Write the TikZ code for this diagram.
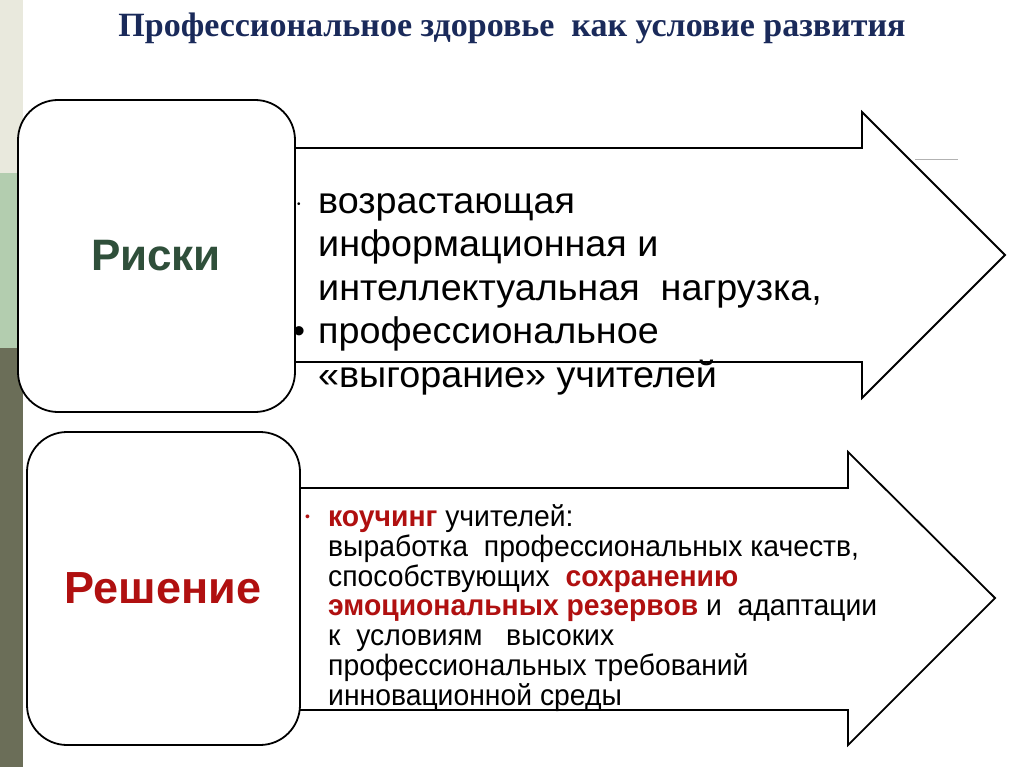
\documentclass[tikz,border=0pt]{standalone}
\usepackage{fontspec}
\setmainfont{Liberation Serif}
\setsansfont{Liberation Sans}
\usetikzlibrary{positioning}
\definecolor{titleblue}{HTML}{1A2A5A}
\definecolor{riskgreen}{HTML}{2F4F3A}
\definecolor{solred}{HTML}{B01010}
\definecolor{stripeA}{HTML}{E9E9DD}
\definecolor{stripeB}{HTML}{B3CDAF}
\definecolor{stripeC}{HTML}{6B6E58}
\tikzset{
	card/.style={draw, line width=1.8pt, rounded corners=40pt, fill=white},
	arrowbox/.style={draw, line width=1.8pt, fill=white},
	body/.style={font=\sffamily, anchor=west, align=left, inner sep=0pt}
}
\begin{document}
\begin{tikzpicture}[x=1pt, y=-1pt]
		\useasboundingbox (0,0) rectangle (1024,767);
		\fill[white] (0,0) rectangle (1024,767);
		% side stripes
		\fill[stripeA] (0,0) rectangle (23,173);
		\fill[stripeB] (0,173) rectangle (23,348);
		\fill[stripeC] (0,348) rectangle (23,767);
		\draw[gray!60, line width=1pt] (915,160) -- (958,160);
		\node (title) at (512,28) {\bfseries\fontsize{34}{38}\selectfont\color{titleblue}Профессиональное здоровье\ \ как условие развития};
		%% arrows
		\draw[arrowbox] (280,148) -- (862,148) -- (862,112) -- (1005,255) -- (862,398) -- (862,362) -- (280,362) -- cycle;
		\draw[arrowbox] (285,488) -- (848,488) -- (848,452) -- (995,598) -- (848,745) -- (848,710) -- (285,710) -- cycle;
		%% cards
		\draw[card] (18,100) rectangle (295,412);
		\draw[card] (27,432) rectangle (300,745);
		\node (risk) at (156,256) {\sffamily\bfseries\fontsize{44}{48}\selectfont\color{riskgreen}Риски};
		\node (sol) at (163,588) {\sffamily\bfseries\fontsize{45}{48}\selectfont\color{solred}Решение};
		%% texts
		\node[body, font=\sffamily\fontsize{37}{43.5}\selectfont, xscale=1.02] (risktext) at (318,294) {%
			возрастающая\\ информационная и\\ интеллектуальная\ \ нагрузка,\\ профессиональное\\ «выгорание» учителей};
		\node[body, font=\sffamily\fontsize{10}{10}\selectfont] (dot1) at (297,205) {•};
		\node[body, font=\sffamily\fontsize{34}{34}\selectfont] (dot2) at (293,335) {•};
		\node[body, font=\sffamily\fontsize{29.5}{29.8}\selectfont, xscale=0.96] (soltext) at (328,608) {%
			\textcolor{solred}{\bfseries коучинг} учителей:\\
			выработка\ \ профессиональных качеств,\\
			способствующих\ \ \textcolor{solred}{\bfseries сохранению}\\
			\textcolor{solred}{\bfseries эмоциональных резервов} и\ \ адаптации\\
			к\ \ условиям\ \ \ высоких\\
			профессиональных требований\\
			инновационной среды};
		\node[body, font=\sffamily\fontsize{14}{14}\selectfont, text=solred] (dot3) at (305,518) {•};
	\end{tikzpicture}
\end{document}
